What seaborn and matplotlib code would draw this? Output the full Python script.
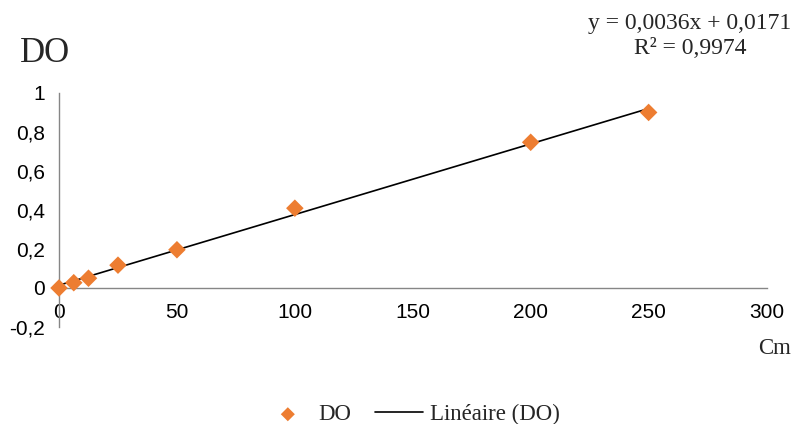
import numpy as np
import pandas as pd
import seaborn as sns
import matplotlib.pyplot as plt

# concentration (Cm) and optical density (DO)
cm = [0, 6.25, 12.5, 25, 50, 100, 200, 250]
do = [0.0, 0.027, 0.05, 0.117, 0.196, 0.409, 0.747, 0.90]
x_ticks = [0, 50, 100, 150, 200, 250, 300]
y_ticks = [-0.2, 0, 0.2, 0.4, 0.6, 0.8, 1]
equation = "y = 0,0036x + 0,0171\nR² = 0,9974"

orange = "#ED7D31"
axis_grey = "#868686"

sns.set_style("white")
plt.rcParams['font.family'] = ['Liberation Sans', 'DejaVu Sans']

df = pd.DataFrame({'Cm': cm, 'DO': do})

fig = plt.figure(figsize=(8.04, 4.24), dpi=100)
ax = fig.add_axes([0.0734, 0.2288, 0.880, 0.552])

sns.scatterplot(data=df, x='Cm', y='DO', ax=ax, marker='D', s=80, color=orange,
                edgecolor='none', label='DO', zorder=3, clip_on=False)
sns.regplot(data=df, x='Cm', y='DO', ax=ax, scatter=False, ci=None, truncate=True,
            label='Linéaire (DO)', line_kws={'color': 'black', 'linewidth': 1.2})

ax.set_xlim(0, 300)
ax.set_ylim(-0.2, 1)
ax.set_xticks(x_ticks)
ax.set_yticks(y_ticks)
ax.set_xticklabels([str(v) for v in x_ticks])
ax.set_yticklabels([f'{v:g}'.replace('.', ',') for v in y_ticks])

ax.spines['top'].set_visible(False)
ax.spines['right'].set_visible(False)
ax.spines['bottom'].set_position(('data', 0))
for side in ['left', 'bottom']:
    ax.spines[side].set_color(axis_grey)
    ax.spines[side].set_linewidth(1.0)
ax.tick_params(axis='both', direction='out', length=4, width=1.0, color=axis_grey,
               labelsize=15, labelcolor='black', pad=6)
ax.tick_params(axis='x', pad=7)
ax.set_xlabel('')
ax.set_ylabel('')

if ax.get_legend() is not None:
    ax.get_legend().remove()
handles, labels = ax.get_legend_handles_labels()
fig.legend(handles, labels, loc='center', bbox_to_anchor=(0.512, 0.022), ncol=2,
           frameon=False, prop={'family': 'Liberation Serif', 'size': 16.5},
           handlelength=2.1, handletextpad=0.3, columnspacing=1.0, markerscale=0.8)

fig.text(0.025, 0.875, 'DO', family='Liberation Serif', fontsize=25, va='center', ha='left')
fig.text(0.964, 0.179, 'Cm', family='Liberation Serif', fontsize=16.5, va='center', ha='center')
fig.text(0.858, 0.915, equation, family='Liberation Serif', fontsize=17, va='center',
         ha='center', multialignment='center', linespacing=1.25)

fig.savefig('out.png', dpi=100)
